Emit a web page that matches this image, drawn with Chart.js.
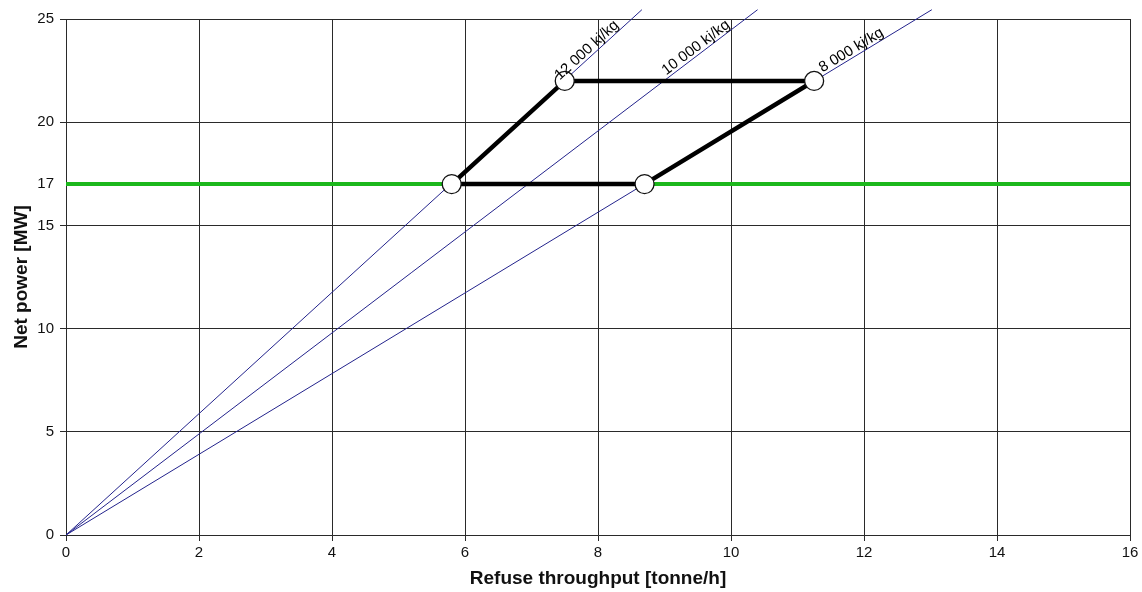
<!DOCTYPE html>
<html>
<head>
<meta charset="utf-8">
<script src="https://cdn.jsdelivr.net/npm/chart.js@4.4.1/dist/chart.umd.min.js"></script>
<style>
  html, body { margin: 0; padding: 0; background: #fff; }
  #wrap { width: 1142px; height: 592px; }
</style>
</head>
<body>
<div id="wrap"><canvas id="first" width="1142" height="592"></canvas></div>
<script>
const xTicks = [0, 2, 4, 6, 8, 10, 12, 14, 16];
const yTicks = [0, 5, 10, 15, 17, 20, 25];

// lines of constant heating value, from the origin
const heatLabels = ["12 000 kj/kg", "10 000 kj/kg", "8 000 kj/kg"];
const lineEndX = [8.66, 10.4, 13.02];
const lineEndY = 25.45;
const labelAtX = [7.5, 9.1, 11.45];

const limitPower = 17;

// operating window
const shapeX = [5.8, 8.7, 11.25, 7.5, 5.8];
const shapeY = [17, 17, 22, 22, 17];
const pointX = [5.8, 8.7, 7.5, 11.25];
const pointY = [17, 17, 22, 22];

const navy = "#23238c";
const font = "'Liberation Sans', Arial, sans-serif";

let heatSets = lineEndX.map((ex, i) => ({
  label: heatLabels[i],
  data: [{x: 0, y: 0}, {x: ex, y: lineEndY}],
  showLine: true,
  borderColor: navy,
  borderWidth: 1,
  pointRadius: 0,
  clip: false,
  order: 3
}));

let labelPlugin = {
  id: "heatLabels",
  afterDatasetsDraw(chart) {
    const ctx = chart.ctx;
    const xs = chart.scales.x, ys = chart.scales.y;
    ctx.save();
    ctx.font = "15px " + font;
    ctx.fillStyle = "#000";
    ctx.textAlign = "left";
    ctx.textBaseline = "alphabetic";
    heatLabels.forEach((t, i) => {
      const slope = lineEndY / lineEndX[i];
      const px = xs.getPixelForValue(labelAtX[i]);
      const py = ys.getPixelForValue(labelAtX[i] * slope);
      const px2 = xs.getPixelForValue(lineEndX[i]);
      const py2 = ys.getPixelForValue(lineEndY);
      const ang = Math.atan2(py2 - py, px2 - px);
      ctx.save();
      ctx.translate(px, py);
      ctx.rotate(ang);
      ctx.fillText(t, -4, -3);
      ctx.restore();
    });
    ctx.restore();
  }
};

let chart = new Chart("first", {
  type: "scatter",
  data: {
    datasets: [
      {
        data: pointX.map((v, i) => ({x: v, y: pointY[i]})),
        pointRadius: 9.5,
        pointBackgroundColor: "#fff",
        pointBorderColor: "#111",
        pointBorderWidth: 1.3,
        showLine: false,
        order: 0
      },
      {
        data: shapeX.map((v, i) => ({x: v, y: shapeY[i]})),
        showLine: true,
        borderColor: "#000",
        borderWidth: 4.5,
        pointRadius: 0,
        order: 1
      },
      {
        data: [{x: 0, y: limitPower}, {x: 16, y: limitPower}],
        showLine: true,
        borderColor: "#1cb81c",
        borderWidth: 4,
        pointRadius: 0,
        order: 2
      },
      ...heatSets
    ]
  },
  options: {
    responsive: false,
    animation: false,
    layout: { padding: { top: 19, right: 12, left: 0, bottom: 0 } },
    plugins: {
      legend: { display: false },
      tooltip: { enabled: false }
    },
    scales: {
      x: {
        type: "linear",
        min: 0, max: 16,
        afterBuildTicks: (s) => { s.ticks = xTicks.map(v => ({value: v})); },
        afterFit: (s) => { s.height = 57; },
        ticks: { color: "#111", font: { family: font, size: 15 }, padding: 3 },
        grid: { color: "#2a2a2a", lineWidth: 1, tickLength: 6 },
        border: { color: "#2a2a2a" },
        title: {
          display: true,
          text: "Refuse throughput [tonne/h]",
          color: "#111",
          font: { family: font, size: 19, weight: "bold" },
          padding: { top: 0, bottom: 2 }
        }
      },
      y: {
        type: "linear",
        min: 0, max: 25,
        afterBuildTicks: (s) => { s.ticks = yTicks.map(v => ({value: v})); },
        afterFit: (s) => { s.width = 66; },
        ticks: { color: "#111", font: { family: font, size: 15 }, padding: 6 },
        grid: {
          color: (c) => (c.tick && c.tick.value === limitPower) ? "rgba(0,0,0,0)" : "#2a2a2a",
          lineWidth: 1,
          tickLength: 6
        },
        border: { color: "#2a2a2a" },
        title: {
          display: true,
          text: "Net power [MW]",
          color: "#111",
          font: { family: font, size: 19, weight: "bold" },
          padding: { top: 10, bottom: 0 }
        }
      }
    }
  },
  plugins: [labelPlugin]
});
</script>
</body>
</html>
